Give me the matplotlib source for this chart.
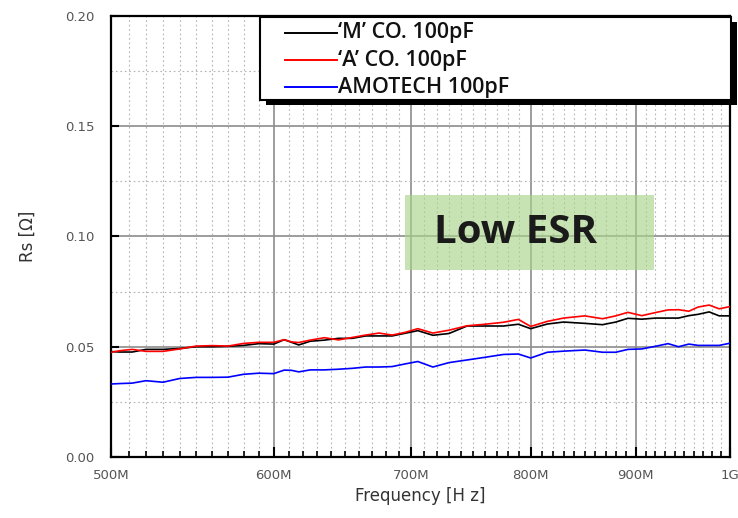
import numpy as np
import matplotlib
matplotlib.use("Agg")
import matplotlib.pyplot as plt
from matplotlib.patches import Rectangle
from matplotlib.ticker import FixedLocator, NullFormatter

# frequency grid in MHz (log axis)
FREQ_MHZ = [500, 505, 512, 520, 530, 540, 550, 560, 570, 580, 590, 600, 607, 612,
            617, 625, 635, 645, 655, 665, 675, 685, 695, 705, 717, 730, 745, 760,
            776, 789, 800, 815, 830, 850, 867, 880, 892, 906, 920, 933, 944, 955,
            965, 977, 988, 1000]

RS_M = [0.0478, 0.0476, 0.0476, 0.0488, 0.0488, 0.0492, 0.0500, 0.0500, 0.0502,
        0.0506, 0.0514, 0.0512, 0.0532, 0.0520, 0.0508, 0.0525, 0.0530, 0.0538,
        0.0538, 0.0549, 0.0549, 0.0549, 0.0561, 0.0573, 0.0552, 0.0560, 0.0594,
        0.0594, 0.0594, 0.0602, 0.0582, 0.0603, 0.0612, 0.0606, 0.0600, 0.0612,
        0.0629, 0.0625, 0.0630, 0.0630, 0.0630, 0.0641, 0.0647, 0.0658, 0.0640,
        0.0640]

RS_A = [0.0475, 0.0482, 0.0488, 0.0479, 0.0479, 0.0490, 0.0503, 0.0505, 0.0503,
        0.0515, 0.0520, 0.0520, 0.0532, 0.0522, 0.0519, 0.0530, 0.0541, 0.0531,
        0.0542, 0.0553, 0.0562, 0.0553, 0.0565, 0.0582, 0.0562, 0.0575, 0.0595,
        0.0602, 0.0611, 0.0624, 0.0592, 0.0615, 0.0630, 0.0640, 0.0627, 0.0640,
        0.0656, 0.0641, 0.0655, 0.0667, 0.0668, 0.0661, 0.0680, 0.0689, 0.0672,
        0.0682]

RS_AMOTECH = [0.0331, 0.0333, 0.0335, 0.0346, 0.0339, 0.0356, 0.0361, 0.0361, 0.0362,
              0.0375, 0.0380, 0.0378, 0.0394, 0.0393, 0.0386, 0.0395, 0.0395, 0.0398,
              0.0402, 0.0408, 0.0408, 0.0410, 0.0422, 0.0433, 0.0408, 0.0428, 0.0440,
              0.0452, 0.0465, 0.0467, 0.0449, 0.0475, 0.0480, 0.0485, 0.0475, 0.0475,
              0.0488, 0.0490, 0.0502, 0.0514, 0.0500, 0.0512, 0.0506, 0.0506, 0.0506,
              0.0516]

LABELS = ["\u2018M\u2019 CO. 100pF", "\u2018A\u2019 CO. 100pF", "AMOTECH 100pF"]
COLORS = ["black", "red", "blue"]

XTICKS_MHZ = [500, 600, 700, 800, 900, 1000]
XTICK_LABELS = ["500M", "600M", "700M", "800M", "900M", "1G"]
YTICKS = [0.00, 0.05, 0.10, 0.15, 0.20]

# highlighted region (MHz, ohm)
BOX_F = (695, 918)
BOX_RS = (0.0848, 0.1188)

freq = np.array(FREQ_MHZ) * 1e6

fig = plt.figure(figsize=(7.38, 5.18), dpi=100)
ax = fig.add_axes([0.1504, 0.1178, 0.8387, 0.8513])

for ys, c, lab in zip([RS_M, RS_A, RS_AMOTECH], COLORS, LABELS):
    ax.plot(freq, ys, color=c, lw=1.2, label=lab, zorder=3)

ax.set_xscale("log")
ax.set_xlim(500e6, 1000e6)
ax.set_ylim(0, 0.20)

ax.xaxis.set_major_locator(FixedLocator(np.array(XTICKS_MHZ) * 1e6))
ax.xaxis.set_minor_locator(FixedLocator(np.arange(510, 1000, 10) * 1e6))
ax.set_xticklabels(XTICK_LABELS)
ax.xaxis.set_minor_formatter(NullFormatter())
ax.set_yticks(YTICKS)
ax.set_yticklabels([f"{v:.2f}" for v in YTICKS])
ax.yaxis.set_minor_locator(FixedLocator(np.arange(0.025, 0.2, 0.05)))

ax.grid(which="major", color="#8c8c8c", lw=1.2, ls="-", zorder=1)
ax.grid(which="minor", color="#b4b4b4", lw=0.8, ls=(0, (1.5, 2.5)), zorder=1)
ax.set_axisbelow(True)

ax.tick_params(axis="x", which="major", direction="in", length=7, width=1.5,
               pad=9, labelsize=9.5, labelcolor="#555555")
ax.tick_params(axis="x", which="minor", direction="in", length=4, width=1.2)
ax.tick_params(axis="y", which="major", direction="in", length=6, width=1.5,
               pad=12, labelsize=9.5, labelcolor="#555555")
ax.tick_params(axis="y", which="minor", length=0)
for s in ax.spines.values():
    s.set_linewidth(1.6)
    s.set_color("black")

ax.set_xlabel("Frequency [H z]", fontsize=12, color="#333333", labelpad=3)
ax.set_ylabel("Rs [\u03a9]", fontsize=12, color="#333333", labelpad=20)

# "Low ESR" highlight
ax.add_patch(Rectangle((BOX_F[0] * 1e6, BOX_RS[0]), (BOX_F[1] - BOX_F[0]) * 1e6,
                       BOX_RS[1] - BOX_RS[0], facecolor="#a9d48a", alpha=0.65,
                       edgecolor="none", zorder=2))
ax.text(np.sqrt(BOX_F[0] * BOX_F[1]) * 1e6 * 0.985, sum(BOX_RS) / 2, "Low ESR",
        fontsize=29, fontweight="bold", family="Open Sans", color="#1a1a1a",
        ha="center", va="center", zorder=4)

# legend box with hard shadow, drawn in axes coordinates
lx0, lx1, ly0, ly1 = 0.2407, 1.0016, 0.8095, 0.9977
tr = ax.transAxes
ax.add_patch(Rectangle((lx0 + 0.0097, ly0 - 0.0113), lx1 - lx0, ly1 - ly0,
                       transform=tr, facecolor="black", edgecolor="none",
                       clip_on=False, zorder=5))
ax.add_patch(Rectangle((lx0, ly0), lx1 - lx0, ly1 - ly0, transform=tr,
                       facecolor="white", edgecolor="black", lw=1.5,
                       clip_on=False, zorder=6))
row_y = [0.9615, 0.9002, 0.8390]
for ry, c, lab in zip(row_y, COLORS, LABELS):
    ax.plot([0.2811, 0.3651], [ry, ry], color=c, lw=1.4, transform=tr,
            clip_on=False, zorder=7)
    ax.text(0.3665, ry, lab, transform=tr, fontsize=15.5, family="Open Sans",
            fontweight="semibold", color="#111111", ha="left", va="center",
            zorder=7)

fig.savefig("out.png", dpi=100)
